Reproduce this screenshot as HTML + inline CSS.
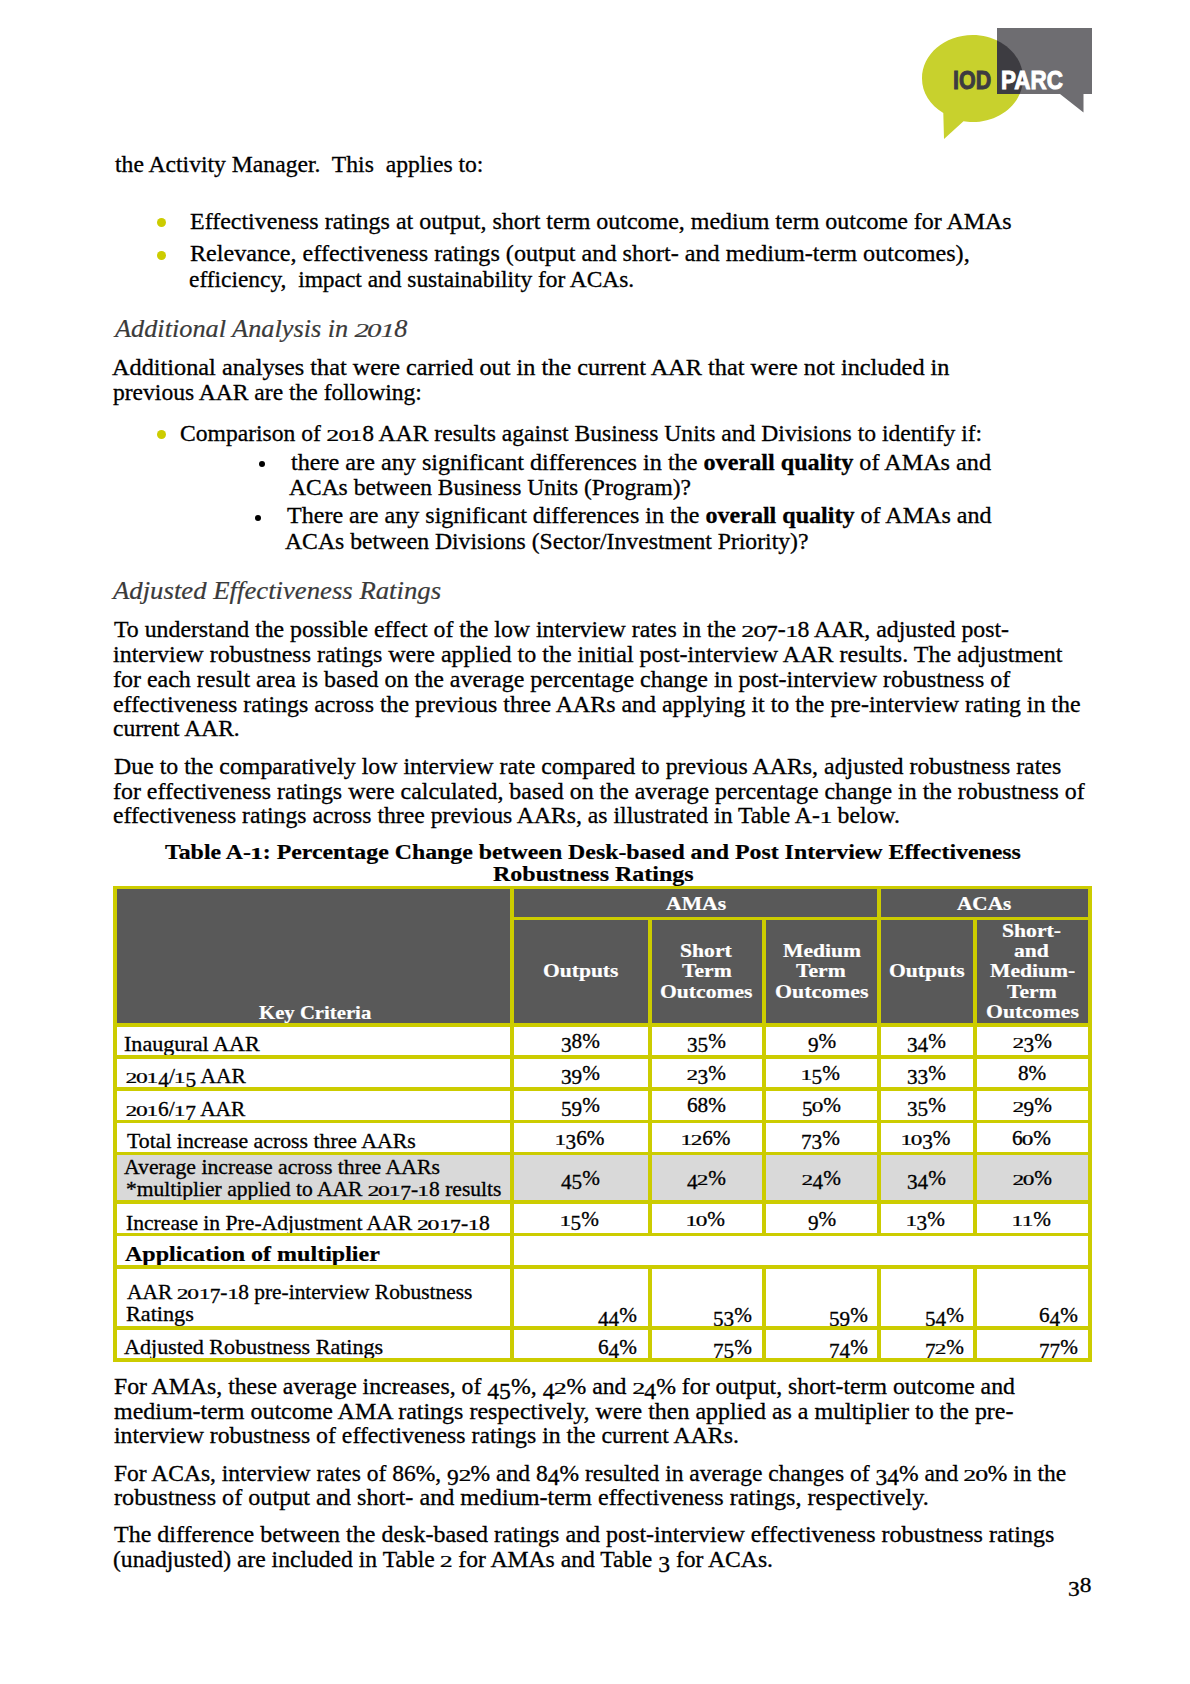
<!DOCTYPE html>
<html><head><meta charset="utf-8"><style>
html,body{margin:0;padding:0;background:#fff;}
body{width:1190px;height:1684px;position:relative;overflow:hidden;}
.r{position:absolute;}
.dx{display:inline-block;line-height:0;transform:scale(1.1,.76);transform-origin:50% .343em;}
.dd{position:relative;top:.2em;}
.t{position:absolute;white-space:pre;line-height:20px;height:20px;font-family:"Liberation Serif",serif;transform-origin:0 0;}
.lg{position:absolute;white-space:pre;font-family:"Liberation Sans",sans-serif;font-weight:bold;transform-origin:0 0;}
</style></head><body>
<svg class="r" style="left:0;top:0" width="1190" height="160" viewBox="0 0 1190 160">
<defs><clipPath id="rc"><rect x="997" y="28" width="95" height="66"/></clipPath></defs>
<path d="M972.5,35 C1000.5,35 1023,54.5 1023,78.5 C1023,102.5 1000.5,122 972.5,122 C969,122 966,121.7 963.5,121.2 L944,139 L943.3,113 C930,105 922,92.5 922,78.5 C922,54.5 944.5,35 972.5,35 Z" fill="#c8d12d"/>
<path d="M997,28 H1092 V94 H1083.5 V112.5 L1060,94 H997 Z" fill="#6e6d71"/>
<g clip-path="url(#rc)"><path d="M972.5,35 C1000.5,35 1023,54.5 1023,78.5 C1023,102.5 1000.5,122 972.5,122 C944.5,122 922,102.5 922,78.5 C922,54.5 944.5,35 972.5,35 Z" fill="#3d3c41"/></g>
</svg>

<div class="r" style="left:113px;top:886px;width:979px;height:141px;background:#595959"></div>
<div class="r" style="left:113px;top:1155px;width:979px;height:45px;background:#d9d9d9"></div>
<div class="r" style="left:113px;top:886px;width:979px;height:3px;background:#cccc00;z-index:2"></div>
<div class="r" style="left:514px;top:917px;width:574px;height:3px;background:#cccc00;z-index:2"></div>
<div class="r" style="left:113px;top:1023px;width:979px;height:4px;background:#cccc00;z-index:2"></div>
<div class="r" style="left:113px;top:1055px;width:979px;height:4px;background:#cccc00;z-index:2"></div>
<div class="r" style="left:113px;top:1087px;width:979px;height:4px;background:#cccc00;z-index:2"></div>
<div class="r" style="left:113px;top:1120px;width:979px;height:3px;background:#cccc00;z-index:2"></div>
<div class="r" style="left:113px;top:1152px;width:979px;height:3px;background:#cccc00;z-index:2"></div>
<div class="r" style="left:113px;top:1200px;width:979px;height:4px;background:#cccc00;z-index:2"></div>
<div class="r" style="left:113px;top:1233px;width:979px;height:3px;background:#cccc00;z-index:2"></div>
<div class="r" style="left:113px;top:1265px;width:979px;height:4px;background:#cccc00;z-index:2"></div>
<div class="r" style="left:113px;top:1326px;width:979px;height:4px;background:#cccc00;z-index:2"></div>
<div class="r" style="left:113px;top:1358px;width:979px;height:4px;background:#cccc00;z-index:2"></div>
<div class="r" style="left:113px;top:886px;width:4px;height:476px;background:#cccc00;z-index:2"></div>
<div class="r" style="left:1088px;top:886px;width:4px;height:476px;background:#cccc00;z-index:2"></div>
<div class="r" style="left:510px;top:886px;width:4px;height:476px;background:#cccc00;z-index:2"></div>
<div class="r" style="left:877px;top:886px;width:4px;height:350px;background:#cccc00;z-index:2"></div>
<div class="r" style="left:877px;top:1269px;width:4px;height:93px;background:#cccc00;z-index:2"></div>
<div class="r" style="left:648px;top:917px;width:4px;height:319px;background:#cccc00;z-index:2"></div>
<div class="r" style="left:648px;top:1269px;width:4px;height:93px;background:#cccc00;z-index:2"></div>
<div class="r" style="left:762px;top:917px;width:4px;height:319px;background:#cccc00;z-index:2"></div>
<div class="r" style="left:762px;top:1269px;width:4px;height:93px;background:#cccc00;z-index:2"></div>
<div class="r" style="left:973px;top:917px;width:4px;height:319px;background:#cccc00;z-index:2"></div>
<div class="r" style="left:973px;top:1269px;width:4px;height:93px;background:#cccc00;z-index:2"></div>
<div class="r" style="left:156.60px;top:217.90px;width:9px;height:9px;border-radius:50%;background:#cccc00"></div>
<div class="r" style="left:156.60px;top:250.50px;width:9px;height:9px;border-radius:50%;background:#cccc00"></div>
<div class="r" style="left:156.50px;top:430.20px;width:9px;height:9px;border-radius:50%;background:#cccc00"></div>
<div class="r" style="left:258.90px;top:460.80px;width:6.2px;height:6.2px;border-radius:50%;background:#000"></div>
<div class="r" style="left:254.50px;top:514.50px;width:6.2px;height:6.2px;border-radius:50%;background:#000"></div>
<div class="t" id="l0" style="left:953.34px;top:70.00px;font-size:26.2px;font-weight:bold;font-style:normal;font-family:'Liberation Sans',sans-serif;-webkit-text-stroke:1.0px currentColor;transform:scaleX(0.8188);color:#3d3c41">IOD</div>
<div class="t" id="l1" style="left:1001.26px;top:70.00px;font-size:26.2px;font-weight:bold;font-style:normal;font-family:'Liberation Sans',sans-serif;-webkit-text-stroke:1.0px currentColor;transform:scaleX(0.8562);color:#ffffff">PARC</div>
<div class="t" id="l2" style="left:114.59px;top:153.60px;font-size:23.3px;font-weight:normal;font-style:normal;-webkit-text-stroke:0.3px currentColor;transform:scaleX(1.0144);color:#000">the Activity Manager.&nbsp; This&nbsp; applies to:</div>
<div class="t" id="l3" style="left:190.27px;top:210.90px;font-size:23.3px;font-weight:normal;font-style:normal;-webkit-text-stroke:0.3px currentColor;transform:scaleX(1.0289);color:#000">Effectiveness ratings at output, short term outcome, medium term outcome for AMAs</div>
<div class="t" id="l4" style="left:190.26px;top:243.31px;font-size:23.3px;font-weight:normal;font-style:normal;-webkit-text-stroke:0.3px currentColor;transform:scaleX(1.0360);color:#000">Relevance, effectiveness ratings (output and short- and medium-term outcomes),</div>
<div class="t" id="l5" style="left:189.30px;top:268.71px;font-size:23.3px;font-weight:normal;font-style:normal;-webkit-text-stroke:0.3px currentColor;transform:scaleX(1.0045);color:#000">efficiency,&nbsp; impact and sustainability for ACAs.</div>
<div class="t" id="l6" style="left:115.33px;top:318.40px;font-size:25.4px;font-weight:normal;font-style:italic;-webkit-text-stroke:0.2px currentColor;transform:scaleX(1.0354);color:#3a3a3a">Additional Analysis in <span class="dx">2</span><span class="dx">0</span><span class="dx">1</span>8</div>
<div class="t" id="l7" style="left:111.52px;top:356.71px;font-size:23.3px;font-weight:normal;font-style:normal;-webkit-text-stroke:0.3px currentColor;transform:scaleX(1.0423);color:#000">Additional analyses that were carried out in the current AAR that were not included in</div>
<div class="t" id="l8" style="left:113.49px;top:381.50px;font-size:23.3px;font-weight:normal;font-style:normal;-webkit-text-stroke:0.3px currentColor;transform:scaleX(1.0112);color:#000">previous AAR are the following:</div>
<div class="t" id="l9" style="left:180.49px;top:422.81px;font-size:23.3px;font-weight:normal;font-style:normal;-webkit-text-stroke:0.3px currentColor;transform:scaleX(1.0127);color:#000">Comparison of <span class="dx">2</span><span class="dx">0</span><span class="dx">1</span>8 AAR results against Business Units and Divisions to identify if:</div>
<div class="t" id="l10" style="left:291.48px;top:451.71px;font-size:23.3px;font-weight:normal;font-style:normal;-webkit-text-stroke:0.3px currentColor;transform:scaleX(1.0380);color:#000">there are any significant differences in the <b>overall quality</b> of AMAs and</div>
<div class="t" id="l11" style="left:289.08px;top:476.90px;font-size:23.3px;font-weight:normal;font-style:normal;-webkit-text-stroke:0.3px currentColor;transform:scaleX(1.0086);color:#000">ACAs between Business Units (Program)?</div>
<div class="t" id="l12" style="left:287.18px;top:505.40px;font-size:23.3px;font-weight:normal;font-style:normal;-webkit-text-stroke:0.3px currentColor;transform:scaleX(1.0329);color:#000">There are any significant differences in the <b>overall quality</b> of AMAs and</div>
<div class="t" id="l13" style="left:285.16px;top:530.71px;font-size:23.3px;font-weight:normal;font-style:normal;-webkit-text-stroke:0.3px currentColor;transform:scaleX(1.0164);color:#000">ACAs between Divisions (Sector/Investment Priority)?</div>
<div class="t" id="l14" style="left:112.77px;top:579.71px;font-size:25.4px;font-weight:normal;font-style:italic;-webkit-text-stroke:0.2px currentColor;transform:scaleX(1.0527);color:#3a3a3a">Adjusted Effectiveness Ratings</div>
<div class="t" id="l15" style="left:114.49px;top:618.81px;font-size:23.3px;font-weight:normal;font-style:normal;-webkit-text-stroke:0.3px currentColor;transform:scaleX(1.0210);color:#000">To understand the possible effect of the low interview rates in the <span class="dx">2</span><span class="dx">0</span><span class="dd">7</span>-<span class="dx">1</span>8 AAR, adjusted post-</div>
<div class="t" id="l16" style="left:113.45px;top:643.71px;font-size:23.3px;font-weight:normal;font-style:normal;-webkit-text-stroke:0.3px currentColor;transform:scaleX(1.0302);color:#000">interview robustness ratings were applied to the initial post-interview AAR results. The adjustment</div>
<div class="t" id="l17" style="left:113.48px;top:668.60px;font-size:23.3px;font-weight:normal;font-style:normal;-webkit-text-stroke:0.3px currentColor;transform:scaleX(1.0289);color:#000">for each result area is based on the average percentage change in post-interview robustness of</div>
<div class="t" id="l18" style="left:113.49px;top:693.50px;font-size:23.3px;font-weight:normal;font-style:normal;-webkit-text-stroke:0.3px currentColor;transform:scaleX(1.0255);color:#000">effectiveness ratings across the previous three AARs and applying it to the pre-interview rating in the</div>
<div class="t" id="l19" style="left:113.49px;top:718.40px;font-size:23.3px;font-weight:normal;font-style:normal;-webkit-text-stroke:0.3px currentColor;transform:scaleX(1.0098);color:#000">current AAR.</div>
<div class="t" id="l20" style="left:114.48px;top:755.71px;font-size:23.3px;font-weight:normal;font-style:normal;-webkit-text-stroke:0.3px currentColor;transform:scaleX(1.0238);color:#000">Due to the comparatively low interview rate compared to previous AARs, adjusted robustness rates</div>
<div class="t" id="l21" style="left:113.49px;top:780.50px;font-size:23.3px;font-weight:normal;font-style:normal;-webkit-text-stroke:0.3px currentColor;transform:scaleX(1.0258);color:#000">for effectiveness ratings were calculated, based on the average percentage change in the robustness of</div>
<div class="t" id="l22" style="left:113.49px;top:805.10px;font-size:23.3px;font-weight:normal;font-style:normal;-webkit-text-stroke:0.3px currentColor;transform:scaleX(1.0161);color:#000">effectiveness ratings across three previous AARs, as illustrated in Table A-<span class="dx">1</span> below.</div>
<div class="t" id="l23" style="left:164.94px;top:841.71px;font-size:21.2px;font-weight:bold;font-style:normal;-webkit-text-stroke:0.2px currentColor;transform:scaleX(1.1248);color:#000">Table A-<span class="dx">1</span>: Percentage Change between Desk-based and Post Interview Effectiveness</div>
<div class="t" id="l24" style="left:493.31px;top:864.21px;font-size:21.2px;font-weight:bold;font-style:normal;-webkit-text-stroke:0.2px currentColor;transform:scaleX(1.1323);color:#000">Robustness Ratings</div>
<div class="t" id="l25" style="left:113.88px;top:1375.90px;font-size:23.3px;font-weight:normal;font-style:normal;-webkit-text-stroke:0.3px currentColor;transform:scaleX(1.0193);color:#000">For AMAs, these average increases, of <span class="dd">4</span><span class="dd">5</span>%, <span class="dd">4</span><span class="dx">2</span>% and <span class="dx">2</span><span class="dd">4</span>% for output, short-term outcome and</div>
<div class="t" id="l26" style="left:113.88px;top:1400.50px;font-size:23.3px;font-weight:normal;font-style:normal;-webkit-text-stroke:0.3px currentColor;transform:scaleX(1.0286);color:#000">medium-term outcome AMA ratings respectively, were then applied as a multiplier to the pre-</div>
<div class="t" id="l27" style="left:113.88px;top:1425.40px;font-size:23.3px;font-weight:normal;font-style:normal;-webkit-text-stroke:0.3px currentColor;transform:scaleX(1.0207);color:#000">interview robustness of effectiveness ratings in the current AARs.</div>
<div class="t" id="l28" style="left:113.89px;top:1462.71px;font-size:23.3px;font-weight:normal;font-style:normal;-webkit-text-stroke:0.3px currentColor;transform:scaleX(1.0093);color:#000">For ACAs, interview rates of 86%, <span class="dd">9</span><span class="dx">2</span>% and 8<span class="dd">4</span>% resulted in average changes of <span class="dd">3</span><span class="dd">4</span>% and <span class="dx">2</span><span class="dx">0</span>% in the</div>
<div class="t" id="l29" style="left:113.87px;top:1487.21px;font-size:23.3px;font-weight:normal;font-style:normal;-webkit-text-stroke:0.3px currentColor;transform:scaleX(1.0373);color:#000">robustness of output and short- and medium-term effectiveness ratings, respectively.</div>
<div class="t" id="l30" style="left:113.88px;top:1524.40px;font-size:23.3px;font-weight:normal;font-style:normal;-webkit-text-stroke:0.3px currentColor;transform:scaleX(1.0303);color:#000">The difference between the desk-based ratings and post-interview effectiveness robustness ratings</div>
<div class="t" id="l31" style="left:112.89px;top:1549.40px;font-size:23.3px;font-weight:normal;font-style:normal;-webkit-text-stroke:0.3px currentColor;transform:scaleX(1.0133);color:#000">(unadjusted) are included in Table <span class="dx">2</span> for AMAs and Table <span class="dd">3</span> for ACAs.</div>
<div class="t" id="l32" style="left:1067.54px;top:1574.71px;font-size:21.0px;font-weight:normal;font-style:normal;-webkit-text-stroke:0.3px currentColor;transform:scaleX(1.1144);color:#000"><span class="dd">3</span>8</div>
<div class="t" id="l33" style="left:665.78px;top:894.40px;font-size:19.0px;font-weight:bold;font-style:normal;-webkit-text-stroke:0.2px currentColor;transform:scaleX(1.1393);color:#fff">AMAs</div>
<div class="t" id="l34" style="left:957.44px;top:894.31px;font-size:19.0px;font-weight:bold;font-style:normal;-webkit-text-stroke:0.2px currentColor;transform:scaleX(1.1173);color:#fff">ACAs</div>
<div class="t" id="l35" style="left:258.51px;top:1002.50px;font-size:19.0px;font-weight:bold;font-style:normal;-webkit-text-stroke:0.2px currentColor;transform:scaleX(1.0912);color:#fff">Key Criteria</div>
<div class="t" id="l36" style="left:543.11px;top:961.10px;font-size:19.0px;font-weight:bold;font-style:normal;-webkit-text-stroke:0.2px currentColor;transform:scaleX(1.1337);color:#fff">Outputs</div>
<div class="t" id="l37" style="left:680.32px;top:941.31px;font-size:19.0px;font-weight:bold;font-style:normal;-webkit-text-stroke:0.2px currentColor;transform:scaleX(1.1386);color:#fff">Short</div>
<div class="t" id="l38" style="left:682.01px;top:961.10px;font-size:19.0px;font-weight:bold;font-style:normal;-webkit-text-stroke:0.2px currentColor;transform:scaleX(1.1386);color:#fff">Term</div>
<div class="t" id="l39" style="left:660.31px;top:982.31px;font-size:19.0px;font-weight:bold;font-style:normal;-webkit-text-stroke:0.2px currentColor;transform:scaleX(1.1386);color:#fff">Outcomes</div>
<div class="t" id="l40" style="left:783.00px;top:941.31px;font-size:19.0px;font-weight:bold;font-style:normal;-webkit-text-stroke:0.2px currentColor;transform:scaleX(1.1386);color:#fff">Medium</div>
<div class="t" id="l41" style="left:796.42px;top:961.10px;font-size:19.0px;font-weight:bold;font-style:normal;-webkit-text-stroke:0.2px currentColor;transform:scaleX(1.1386);color:#fff">Term</div>
<div class="t" id="l42" style="left:774.74px;top:982.31px;font-size:19.0px;font-weight:bold;font-style:normal;-webkit-text-stroke:0.2px currentColor;transform:scaleX(1.1509);color:#fff">Outcomes</div>
<div class="t" id="l43" style="left:888.84px;top:961.10px;font-size:19.0px;font-weight:bold;font-style:normal;-webkit-text-stroke:0.2px currentColor;transform:scaleX(1.1386);color:#fff">Outputs</div>
<div class="t" id="l44" style="left:1002.39px;top:921.10px;font-size:19.0px;font-weight:bold;font-style:normal;-webkit-text-stroke:0.2px currentColor;transform:scaleX(1.1386);color:#fff">Short-</div>
<div class="t" id="l45" style="left:1014.34px;top:941.31px;font-size:19.0px;font-weight:bold;font-style:normal;-webkit-text-stroke:0.2px currentColor;transform:scaleX(1.1386);color:#fff">and</div>
<div class="t" id="l46" style="left:990.30px;top:961.10px;font-size:19.0px;font-weight:bold;font-style:normal;-webkit-text-stroke:0.2px currentColor;transform:scaleX(1.1386);color:#fff">Medium-</div>
<div class="t" id="l47" style="left:1007.42px;top:982.10px;font-size:19.0px;font-weight:bold;font-style:normal;-webkit-text-stroke:0.2px currentColor;transform:scaleX(1.1386);color:#fff">Term</div>
<div class="t" id="l48" style="left:986.23px;top:1001.81px;font-size:19.0px;font-weight:bold;font-style:normal;-webkit-text-stroke:0.2px currentColor;transform:scaleX(1.1428);color:#fff">Outcomes</div>
<div class="t" id="l49" style="left:124.35px;top:1033.71px;font-size:20.4px;font-weight:normal;font-style:normal;-webkit-text-stroke:0.3px currentColor;transform:scaleX(1.0845);color:#000">Inaugural AAR</div>
<div class="t" id="l50" style="left:125.56px;top:1065.81px;font-size:20.4px;font-weight:normal;font-style:normal;-webkit-text-stroke:0.3px currentColor;transform:scaleX(1.0506);color:#000"><span class="dx">2</span><span class="dx">0</span><span class="dx">1</span><span class="dd">4</span>/<span class="dx">1</span><span class="dd">5</span> AAR</div>
<div class="t" id="l51" style="left:125.56px;top:1098.71px;font-size:20.4px;font-weight:normal;font-style:normal;-webkit-text-stroke:0.3px currentColor;transform:scaleX(1.0470);color:#000"><span class="dx">2</span><span class="dx">0</span><span class="dx">1</span>6/<span class="dx">1</span><span class="dd">7</span> AAR</div>
<div class="t" id="l52" style="left:126.54px;top:1130.50px;font-size:20.4px;font-weight:normal;font-style:normal;-webkit-text-stroke:0.3px currentColor;transform:scaleX(1.0677);color:#000">Total increase across three AARs</div>
<div class="t" id="l53" style="left:124.48px;top:1156.90px;font-size:20.4px;font-weight:normal;font-style:normal;-webkit-text-stroke:0.3px currentColor;transform:scaleX(1.0660);color:#000">Average increase across three AARs</div>
<div class="t" id="l54" style="left:125.55px;top:1178.71px;font-size:20.4px;font-weight:normal;font-style:normal;-webkit-text-stroke:0.3px currentColor;transform:scaleX(1.0571);color:#000">*multiplier applied to AAR <span class="dx">2</span><span class="dx">0</span><span class="dx">1</span><span class="dd">7</span>-<span class="dx">1</span>8 results</div>
<div class="t" id="l55" style="left:125.55px;top:1213.00px;font-size:20.4px;font-weight:normal;font-style:normal;-webkit-text-stroke:0.3px currentColor;transform:scaleX(1.0597);color:#000">Increase in Pre-Adjustment AAR <span class="dx">2</span><span class="dx">0</span><span class="dx">1</span><span class="dd">7</span>-<span class="dx">1</span>8</div>
<div class="t" id="l56" style="left:125.46px;top:1243.90px;font-size:20.4px;font-weight:bold;font-style:normal;-webkit-text-stroke:0.2px currentColor;transform:scaleX(1.1777);color:#000">Application of multiplier</div>
<div class="t" id="l57" style="left:126.56px;top:1282.21px;font-size:20.4px;font-weight:normal;font-style:normal;-webkit-text-stroke:0.3px currentColor;transform:scaleX(1.0494);color:#000">AAR <span class="dx">2</span><span class="dx">0</span><span class="dx">1</span><span class="dd">7</span>-<span class="dx">1</span>8 pre-interview Robustness</div>
<div class="t" id="l58" style="left:125.54px;top:1304.40px;font-size:20.4px;font-weight:normal;font-style:normal;-webkit-text-stroke:0.3px currentColor;transform:scaleX(1.0889);color:#000">Ratings</div>
<div class="t" id="l59" style="left:124.45px;top:1336.71px;font-size:20.4px;font-weight:normal;font-style:normal;-webkit-text-stroke:0.3px currentColor;transform:scaleX(1.0844);color:#000">Adjusted Robustness Ratings</div>
<div class="t" id="l60" style="left:561.24px;top:1030.81px;font-size:20.4px;font-weight:normal;font-style:normal;-webkit-text-stroke:0.3px currentColor;transform:scaleX(1.0400);color:#000"><span class="dd">3</span>8%</div>
<div class="t" id="l61" style="left:687.24px;top:1030.81px;font-size:20.4px;font-weight:normal;font-style:normal;-webkit-text-stroke:0.3px currentColor;transform:scaleX(1.0400);color:#000"><span class="dd">3</span><span class="dd">5</span>%</div>
<div class="t" id="l62" style="left:807.96px;top:1030.81px;font-size:20.4px;font-weight:normal;font-style:normal;-webkit-text-stroke:0.3px currentColor;transform:scaleX(1.0400);color:#000"><span class="dd">9</span>%</div>
<div class="t" id="l63" style="left:907.24px;top:1030.81px;font-size:20.4px;font-weight:normal;font-style:normal;-webkit-text-stroke:0.3px currentColor;transform:scaleX(1.0400);color:#000"><span class="dd">3</span><span class="dd">4</span>%</div>
<div class="t" id="l64" style="left:1012.72px;top:1030.81px;font-size:20.4px;font-weight:normal;font-style:normal;-webkit-text-stroke:0.3px currentColor;transform:scaleX(1.0400);color:#000"><span class="dx">2</span><span class="dd">3</span>%</div>
<div class="t" id="l65" style="left:561.24px;top:1062.81px;font-size:20.4px;font-weight:normal;font-style:normal;-webkit-text-stroke:0.3px currentColor;transform:scaleX(1.0400);color:#000"><span class="dd">3</span><span class="dd">9</span>%</div>
<div class="t" id="l66" style="left:687.24px;top:1062.81px;font-size:20.4px;font-weight:normal;font-style:normal;-webkit-text-stroke:0.3px currentColor;transform:scaleX(1.0400);color:#000"><span class="dx">2</span><span class="dd">3</span>%</div>
<div class="t" id="l67" style="left:801.22px;top:1062.81px;font-size:20.4px;font-weight:normal;font-style:normal;-webkit-text-stroke:0.3px currentColor;transform:scaleX(1.0400);color:#000"><span class="dx">1</span><span class="dd">5</span>%</div>
<div class="t" id="l68" style="left:907.24px;top:1062.81px;font-size:20.4px;font-weight:normal;font-style:normal;-webkit-text-stroke:0.3px currentColor;transform:scaleX(1.0400);color:#000"><span class="dd">3</span><span class="dd">3</span>%</div>
<div class="t" id="l69" style="left:1018.46px;top:1062.81px;font-size:20.4px;font-weight:normal;font-style:normal;-webkit-text-stroke:0.3px currentColor;transform:scaleX(1.0400);color:#000">8%</div>
<div class="t" id="l70" style="left:561.24px;top:1094.60px;font-size:20.4px;font-weight:normal;font-style:normal;-webkit-text-stroke:0.3px currentColor;transform:scaleX(1.0400);color:#000"><span class="dd">5</span><span class="dd">9</span>%</div>
<div class="t" id="l71" style="left:687.24px;top:1094.60px;font-size:20.4px;font-weight:normal;font-style:normal;-webkit-text-stroke:0.3px currentColor;transform:scaleX(1.0400);color:#000">68%</div>
<div class="t" id="l72" style="left:801.72px;top:1094.60px;font-size:20.4px;font-weight:normal;font-style:normal;-webkit-text-stroke:0.3px currentColor;transform:scaleX(1.0400);color:#000"><span class="dd">5</span><span class="dx">0</span>%</div>
<div class="t" id="l73" style="left:907.24px;top:1094.60px;font-size:20.4px;font-weight:normal;font-style:normal;-webkit-text-stroke:0.3px currentColor;transform:scaleX(1.0400);color:#000"><span class="dd">3</span><span class="dd">5</span>%</div>
<div class="t" id="l74" style="left:1012.72px;top:1094.60px;font-size:20.4px;font-weight:normal;font-style:normal;-webkit-text-stroke:0.3px currentColor;transform:scaleX(1.0400);color:#000"><span class="dx">2</span><span class="dd">9</span>%</div>
<div class="t" id="l75" style="left:555.02px;top:1127.60px;font-size:20.4px;font-weight:normal;font-style:normal;-webkit-text-stroke:0.3px currentColor;transform:scaleX(1.0400);color:#000"><span class="dx">1</span><span class="dd">3</span>6%</div>
<div class="t" id="l76" style="left:681.02px;top:1127.60px;font-size:20.4px;font-weight:normal;font-style:normal;-webkit-text-stroke:0.3px currentColor;transform:scaleX(1.0400);color:#000"><span class="dx">1</span><span class="dx">2</span>6%</div>
<div class="t" id="l77" style="left:801.24px;top:1127.60px;font-size:20.4px;font-weight:normal;font-style:normal;-webkit-text-stroke:0.3px currentColor;transform:scaleX(1.0400);color:#000"><span class="dd">7</span><span class="dd">3</span>%</div>
<div class="t" id="l78" style="left:901.02px;top:1127.60px;font-size:20.4px;font-weight:normal;font-style:normal;-webkit-text-stroke:0.3px currentColor;transform:scaleX(1.0400);color:#000"><span class="dx">1</span><span class="dx">0</span><span class="dd">3</span>%</div>
<div class="t" id="l79" style="left:1012.24px;top:1127.60px;font-size:20.4px;font-weight:normal;font-style:normal;-webkit-text-stroke:0.3px currentColor;transform:scaleX(1.0400);color:#000">6<span class="dx">0</span>%</div>
<div class="t" id="l80" style="left:561.24px;top:1167.81px;font-size:20.4px;font-weight:normal;font-style:normal;-webkit-text-stroke:0.3px currentColor;transform:scaleX(1.0400);color:#000"><span class="dd">4</span><span class="dd">5</span>%</div>
<div class="t" id="l81" style="left:687.24px;top:1167.81px;font-size:20.4px;font-weight:normal;font-style:normal;-webkit-text-stroke:0.3px currentColor;transform:scaleX(1.0400);color:#000"><span class="dd">4</span><span class="dx">2</span>%</div>
<div class="t" id="l82" style="left:801.72px;top:1167.81px;font-size:20.4px;font-weight:normal;font-style:normal;-webkit-text-stroke:0.3px currentColor;transform:scaleX(1.0400);color:#000"><span class="dx">2</span><span class="dd">4</span>%</div>
<div class="t" id="l83" style="left:907.24px;top:1167.81px;font-size:20.4px;font-weight:normal;font-style:normal;-webkit-text-stroke:0.3px currentColor;transform:scaleX(1.0400);color:#000"><span class="dd">3</span><span class="dd">4</span>%</div>
<div class="t" id="l84" style="left:1012.72px;top:1167.81px;font-size:20.4px;font-weight:normal;font-style:normal;-webkit-text-stroke:0.3px currentColor;transform:scaleX(1.0400);color:#000"><span class="dx">2</span><span class="dx">0</span>%</div>
<div class="t" id="l85" style="left:560.22px;top:1209.01px;font-size:20.4px;font-weight:normal;font-style:normal;-webkit-text-stroke:0.3px currentColor;transform:scaleX(1.0400);color:#000"><span class="dx">1</span><span class="dd">5</span>%</div>
<div class="t" id="l86" style="left:686.22px;top:1209.01px;font-size:20.4px;font-weight:normal;font-style:normal;-webkit-text-stroke:0.3px currentColor;transform:scaleX(1.0400);color:#000"><span class="dx">1</span><span class="dx">0</span>%</div>
<div class="t" id="l87" style="left:807.96px;top:1209.01px;font-size:20.4px;font-weight:normal;font-style:normal;-webkit-text-stroke:0.3px currentColor;transform:scaleX(1.0400);color:#000"><span class="dd">9</span>%</div>
<div class="t" id="l88" style="left:906.22px;top:1209.01px;font-size:20.4px;font-weight:normal;font-style:normal;-webkit-text-stroke:0.3px currentColor;transform:scaleX(1.0400);color:#000"><span class="dx">1</span><span class="dd">3</span>%</div>
<div class="t" id="l89" style="left:1012.22px;top:1209.01px;font-size:20.4px;font-weight:normal;font-style:normal;-webkit-text-stroke:0.3px currentColor;transform:scaleX(1.0400);color:#000"><span class="dx">1</span><span class="dx">1</span>%</div>
<div class="t" id="l90" style="left:598.22px;top:1304.70px;font-size:20.4px;font-weight:normal;font-style:normal;-webkit-text-stroke:0.3px currentColor;transform:scaleX(1.0400);color:#000"><span class="dd">4</span><span class="dd">4</span>%</div>
<div class="t" id="l91" style="left:713.34px;top:1304.70px;font-size:20.4px;font-weight:normal;font-style:normal;-webkit-text-stroke:0.3px currentColor;transform:scaleX(1.0400);color:#000"><span class="dd">5</span><span class="dd">3</span>%</div>
<div class="t" id="l92" style="left:828.82px;top:1304.70px;font-size:20.4px;font-weight:normal;font-style:normal;-webkit-text-stroke:0.3px currentColor;transform:scaleX(1.0400);color:#000"><span class="dd">5</span><span class="dd">9</span>%</div>
<div class="t" id="l93" style="left:924.70px;top:1304.70px;font-size:20.4px;font-weight:normal;font-style:normal;-webkit-text-stroke:0.3px currentColor;transform:scaleX(1.0400);color:#000"><span class="dd">5</span><span class="dd">4</span>%</div>
<div class="t" id="l94" style="left:1039.40px;top:1304.70px;font-size:20.4px;font-weight:normal;font-style:normal;-webkit-text-stroke:0.3px currentColor;transform:scaleX(1.0400);color:#000">6<span class="dd">4</span>%</div>
<div class="t" id="l95" style="left:598.22px;top:1336.50px;font-size:20.4px;font-weight:normal;font-style:normal;-webkit-text-stroke:0.3px currentColor;transform:scaleX(1.0400);color:#000">6<span class="dd">4</span>%</div>
<div class="t" id="l96" style="left:713.34px;top:1336.50px;font-size:20.4px;font-weight:normal;font-style:normal;-webkit-text-stroke:0.3px currentColor;transform:scaleX(1.0400);color:#000"><span class="dd">7</span><span class="dd">5</span>%</div>
<div class="t" id="l97" style="left:828.82px;top:1336.50px;font-size:20.4px;font-weight:normal;font-style:normal;-webkit-text-stroke:0.3px currentColor;transform:scaleX(1.0400);color:#000"><span class="dd">7</span><span class="dd">4</span>%</div>
<div class="t" id="l98" style="left:924.70px;top:1336.50px;font-size:20.4px;font-weight:normal;font-style:normal;-webkit-text-stroke:0.3px currentColor;transform:scaleX(1.0400);color:#000"><span class="dd">7</span><span class="dx">2</span>%</div>
<div class="t" id="l99" style="left:1039.40px;top:1336.50px;font-size:20.4px;font-weight:normal;font-style:normal;-webkit-text-stroke:0.3px currentColor;transform:scaleX(1.0400);color:#000"><span class="dd">7</span><span class="dd">7</span>%</div>
</body></html>
